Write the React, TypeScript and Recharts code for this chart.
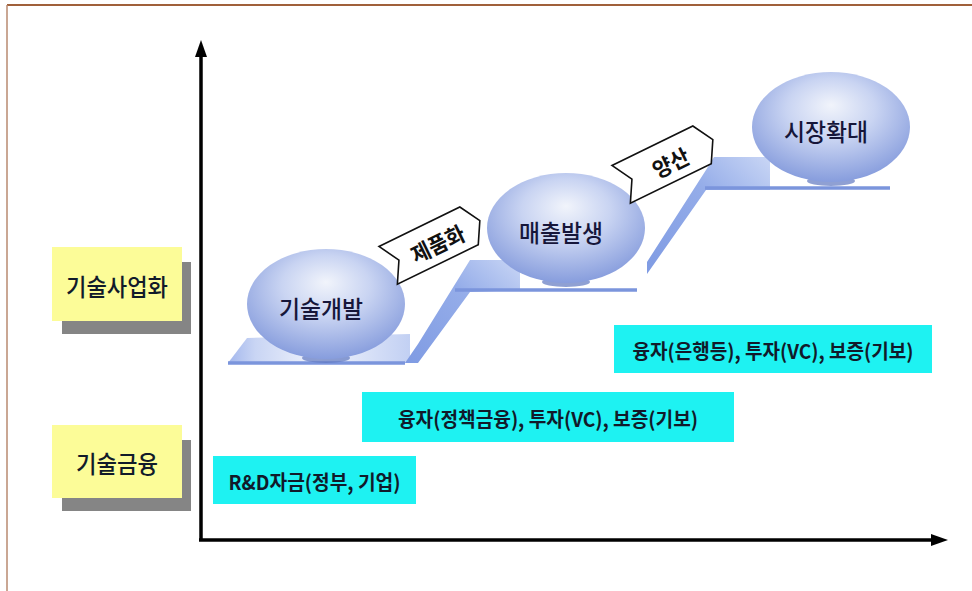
import React from "react";
import {
  Area,
  ComposedChart,
  Line,
  ReferenceArea,
  ReferenceDot,
  ReferenceLine,
  Scatter,
  XAxis,
  YAxis,
} from "recharts";

const W = 972;
const H = 591;
const FONT = "'Noto Sans CJK KR', 'Noto Sans', sans-serif";

// stages (bubbles on the stairs)
const stageNames = ["기술개발", "매출발생", "시장확대"];
const stageX = [326, 566, 831];
const stageY = [304, 228, 127];

// transition tags between stages
const stepNames = ["제품화", "양산"];
const stepX = [434, 667];
const stepY = [243, 162];

// row titles on the left
const rowNames = ["기술사업화", "기술금융"];
const rowTop = [247, 425];
const rowBottom = [321, 498];
const rowStart = 52;
const rowEnd = 182;

// financing boxes
const fundNames = [
  "R&D자금(정부, 기업)",
  "융자(정책금융), 투자(VC), 보증(기보)",
  "융자(은행등), 투자(VC), 보증(기보)",
];
const fundStart = [213, 362, 614];
const fundEnd = [416, 734, 932];
const fundTop = [456, 392, 325];
const fundBottom = [504, 442, 373];

// staircase
const platformY = [363, 290, 188];
const platformStart = [228, 455, 705];
const platformEnd = [405, 637, 890];

const landingX = [228, 247, 410];
const landingLo = [363, 363, 363];
const landingHi = [363, 338, 334];

const riser1X = [405, 418, 470, 520];
const riser1Lo = [363, 363, 292, 290];
const riser1Hi = [363, 344, 260, 260];

const riser2X = [647, 706, 714, 770];
const riser2Lo = [274, 190, 190, 190];
const riser2Hi = [262, 170, 157, 157];

const band = (xs: number[], lo: number[], hi: number[]) =>
  xs.map((x, i) => ({ x, band: [lo[i], hi[i]] }));

const stageData = stageNames.map((name, i) => ({ x: stageX[i], y: stageY[i], name }));
const stepData = stepNames.map((name, i) => ({ x: stepX[i], y: stepY[i], name }));

const StageBubble = (props: any) => {
  const { cx, cy, payload } = props;
  return (
    <g>
      <ellipse cx={cx} cy={cy + 54} rx={24} ry={5} fill="#5f77c0" opacity={0.7} />
      <ellipse cx={cx} cy={cy} rx={79} ry={55} fill="url(#bubbleFill)" />
      <text
        x={cx - 5}
        y={cy + 3}
        textAnchor="middle"
        dominantBaseline="central"
        fontFamily={FONT}
        fontWeight={500}
        fontSize={24}
        fill="#16163a"
        textLength={84}
        lengthAdjust="spacingAndGlyphs"
      >
        {payload.name}
      </text>
    </g>
  );
};

const StepTag = (props: any) => {
  const { cx, cy, payload } = props;
  const w = 102;
  const h = 42;
  const p = 12;
  const pts = [
    [-w / 2, -h / 2],
    [w / 2 - p, -h / 2],
    [w / 2, 0],
    [w / 2 - p, h / 2],
    [-w / 2, h / 2],
    [-w / 2 + p, 0],
  ]
    .map((q) => q.join(","))
    .join(" ");
  return (
    <g transform={`translate(${cx},${cy}) rotate(-26)`}>
      <polygon points={pts} fill="#ffffff" stroke="#111" strokeWidth={1.6} />
      <text
        x={3}
        y={1}
        textAnchor="middle"
        dominantBaseline="central"
        fontFamily={FONT}
        fontWeight={700}
        fontSize={22}
        fill="#111"
        textLength={payload.name.length * 19}
        lengthAdjust="spacingAndGlyphs"
      >
        {payload.name}
      </text>
    </g>
  );
};

const boxText = (text: string, size: number, len: number, weight: number) => (p: any) => {
  const { x, y, width, height } = p.viewBox;
  return (
    <text
      x={x + width / 2}
      y={y + height / 2 + 1}
      textAnchor="middle"
      dominantBaseline="central"
      fontFamily={FONT}
      fontWeight={weight}
      fontSize={size}
      fill="#111a2a"
      textLength={len}
      lengthAdjust="spacingAndGlyphs"
    >
      {text}
    </text>
  );
};

const fundTextLen = [172, 300, 281];
const rowTextLen = [102, 82];

const arrowUp = (p: any) => (
  <polygon points={`${p.cx},${p.cy} ${p.cx - 6},${p.cy + 17} ${p.cx + 6},${p.cy + 17}`} fill="#000" />
);
const arrowRight = (p: any) => (
  <polygon points={`${p.cx},${p.cy} ${p.cx - 17},${p.cy - 6} ${p.cx - 17},${p.cy + 6}`} fill="#000" />
);

export default function App() {
  return (
    <div style={{ position: "absolute", left: 0, top: 0, width: W, height: H, background: "#fff" }}>
      <ComposedChart width={W} height={H} margin={{ top: 0, right: 0, bottom: 0, left: 0 }}>
        <defs>
          <radialGradient id="bubbleFill" cx="50%" cy="38%" r="62%" fx="50%" fy="30%">
            <stop offset="0%" stopColor="#f1f4fb" />
            <stop offset="45%" stopColor="#c9d4f2" />
            <stop offset="100%" stopColor="#879ddd" />
          </radialGradient>
          <linearGradient id="riserFill" x1="0" y1="1" x2="1" y2="0">
            <stop offset="0%" stopColor="#7f9be3" />
            <stop offset="60%" stopColor="#95ade9" />
            <stop offset="100%" stopColor="#c9d6f5" />
          </linearGradient>
          <linearGradient id="landingFill" x1="0" y1="0" x2="1" y2="0">
            <stop offset="0%" stopColor="#a3b7ed" />
            <stop offset="15%" stopColor="#c9d5f4" />
            <stop offset="50%" stopColor="#f1f4fc" />
            <stop offset="100%" stopColor="#c2d0f3" />
          </linearGradient>
        </defs>
        <XAxis type="number" dataKey="x" domain={[0, W]} hide allowDataOverflow />
        <YAxis type="number" dataKey="y" domain={[0, H]} reversed hide allowDataOverflow />

        {/* frame */}
        <ReferenceLine segment={[{ x: 7, y: 5 }, { x: W, y: 5 }]} stroke="#a0603a" strokeWidth={2} />
        <ReferenceLine segment={[{ x: 7, y: 5 }, { x: 7, y: H }]} stroke="#b88a70" strokeWidth={1.5} />

        {/* left row titles */}
        {rowNames.map((name, i) => (
          <ReferenceArea
            key={`sh-${name}`}
            x1={rowStart + 10}
            x2={rowEnd + 9}
            y1={rowTop[i] + 15}
            y2={rowBottom[i] + 13}
            fill="#858585"
            fillOpacity={1}
            stroke="none"
          />
        ))}
        {rowNames.map((name, i) => (
          <ReferenceArea
            key={name}
            x1={rowStart}
            x2={rowEnd}
            y1={rowTop[i]}
            y2={rowBottom[i]}
            fill="#fcfc98"
            fillOpacity={1}
            stroke="none"
            label={boxText(name, 24, rowTextLen[i], 500)}
          />
        ))}

        {/* financing */}
        {fundNames.map((name, i) => (
          <ReferenceArea
            key={name}
            x1={fundStart[i]}
            x2={fundEnd[i]}
            y1={fundTop[i]}
            y2={fundBottom[i]}
            fill="#1ef2f2"
            fillOpacity={1}
            stroke="none"
            label={boxText(name, 20, fundTextLen[i], 700)}
          />
        ))}

        {/* axes */}
        <ReferenceLine segment={[{ x: 201, y: 540 }, { x: 201, y: 54 }]} stroke="#000" strokeWidth={3.5} />
        <ReferenceLine segment={[{ x: 199, y: 540 }, { x: 934, y: 540 }]} stroke="#000" strokeWidth={3.5} />
        <ReferenceDot x={201} y={40} shape={arrowUp} />
        <ReferenceDot x={948} y={540} shape={arrowRight} />

        {/* staircase */}
        <Area
          data={band(landingX, landingLo, landingHi)}
          dataKey="band"
          type="linear"
          fill="url(#landingFill)"
          fillOpacity={1}
          stroke="none"
          isAnimationActive={false}
          dot={false}
          activeDot={false}
        />
        <Area
          data={band(riser1X, riser1Lo, riser1Hi)}
          dataKey="band"
          type="linear"
          fill="url(#riserFill)"
          fillOpacity={1}
          stroke="none"
          isAnimationActive={false}
          dot={false}
          activeDot={false}
        />
        <Area
          data={band(riser2X, riser2Lo, riser2Hi)}
          dataKey="band"
          type="linear"
          fill="url(#riserFill)"
          fillOpacity={1}
          stroke="none"
          isAnimationActive={false}
          dot={false}
          activeDot={false}
        />
        {platformY.map((y, i) => (
          <Line
            key={`pl-${i}`}
            data={[
              { x: platformStart[i], y },
              { x: platformEnd[i], y },
            ]}
            dataKey="y"
            type="linear"
            stroke="#7b95dc"
            strokeWidth={3.5}
            dot={false}
            activeDot={false}
            isAnimationActive={false}
          />
        ))}

        <Scatter data={stageData} dataKey="y" shape={StageBubble} isAnimationActive={false} />
        <Scatter data={stepData} dataKey="y" shape={StepTag} isAnimationActive={false} />
      </ComposedChart>
    </div>
  );
}
